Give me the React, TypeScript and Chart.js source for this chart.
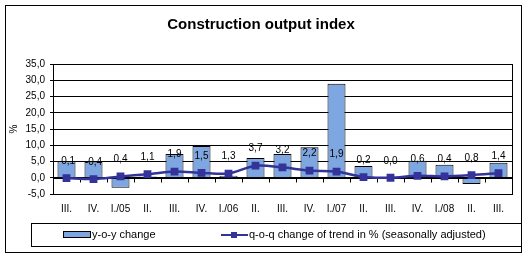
import React, { useEffect, useRef } from "react";
import { Chart, registerables } from "chart.js";

Chart.register(...registerables);

const chartTitle = "Construction output index";
const yAxisTitle = "%";
const categories = ["III.", "IV.", "I./05", "II.", "III.", "IV.", "I./06", "II.", "III.", "IV.", "I./07", "II.", "III.", "IV.", "I./08", "II.", "III."];
const yoyChange = [5.1, 5.0, -3.1, 0.4, 7.3, 9.8, 0.6, 6.1, 7.3, 9.4, 28.9, 3.6, -0.4, 5.2, 4.0, -1.9, 4.6];
const qoqTrend = [-0.1, -0.4, 0.4, 1.1, 1.9, 1.5, 1.3, 3.7, 3.2, 2.2, 1.9, 0.2, 0.0, 0.6, 0.4, 0.8, 1.4];
const seriesNames = ["y-o-y change", "q-o-q change of trend in % (seasonally adjusted)"];
const yMin = -5;
const yMax = 35;
const yStep = 5;

const FONT = "'Liberation Sans', Arial, sans-serif";
const BAR_COLOR = "#7EA6E0";
const LINE_COLOR = "#333399";

const fmt = (v: number) => v.toFixed(1).replace(".", ",");

const decorPlugin = {
  id: "decor",
  beforeDraw(chart: any) {
    const ctx = chart.ctx;
    ctx.save();
    ctx.fillStyle = "#ffffff";
    ctx.fillRect(0, 0, chart.width, chart.height);
    ctx.restore();
  },
  afterDatasetDraw(chart: any, args: any) {
    if (args.index !== 0) return;
    const ctx = chart.ctx;
    const { left, right } = chart.chartArea;
    const y0 = Math.round(chart.scales.y.getPixelForValue(0)) + 0.5;
    const xs = chart.scales.x;
    ctx.save();
    ctx.strokeStyle = "#000";
    ctx.lineWidth = 1;
    ctx.beginPath();
    ctx.moveTo(left, y0);
    ctx.lineTo(right, y0);
    const n = categories.length;
    const w = (right - left) / n;
    for (let i = 1; i < n; i++) {
      const x = Math.round(left + i * w) + 0.5;
      ctx.moveTo(x, y0);
      ctx.lineTo(x, y0 + 4);
    }
    ctx.stroke();
    ctx.restore();
  },
  afterDraw(chart: any) {
    const ctx = chart.ctx;
    const { left, right, top, bottom } = chart.chartArea;
    ctx.save();
    ctx.strokeStyle = "#000";
    ctx.lineWidth = 1;
    // plot border
    ctx.strokeRect(Math.round(left) + 0.5, Math.round(top) + 0.5, Math.round(right - left), Math.round(bottom - top));
    // outer border
    ctx.strokeRect(5.5, 5.5, 516, 247);

    // data labels for line
    const meta = chart.getDatasetMeta(1);
    ctx.fillStyle = "#000";
    ctx.font = `10px ${FONT}`;
    ctx.textAlign = "center";
    ctx.textBaseline = "middle";
    meta.data.forEach((pt: any, i: number) => {
      ctx.fillText(fmt(qoqTrend[i]), pt.x, pt.y - 17);
    });

    // title
    ctx.font = `bold 15px ${FONT}`;
    ctx.textBaseline = "alphabetic";
    ctx.fillText(chartTitle, 261, 29);

    // y axis title
    ctx.save();
    ctx.translate(14, 129);
    ctx.rotate(-Math.PI / 2);
    ctx.font = `10px ${FONT}`;
    ctx.textBaseline = "middle";
    ctx.fillText(yAxisTitle, 0, 0);
    ctx.restore();

    // legend
    ctx.strokeRect(31.5, 223.5, 490, 23);
    ctx.fillStyle = BAR_COLOR;
    ctx.fillRect(63, 231, 27, 7);
    ctx.strokeRect(63.5, 231.5, 27, 6);
    ctx.fillStyle = "#000";
    ctx.font = `11px ${FONT}`;
    ctx.textAlign = "left";
    ctx.textBaseline = "middle";
    ctx.fillText(seriesNames[0], 92, 235);
    ctx.strokeStyle = LINE_COLOR;
    ctx.lineWidth = 2;
    ctx.beginPath();
    ctx.moveTo(221, 235);
    ctx.lineTo(248, 235);
    ctx.stroke();
    ctx.fillStyle = LINE_COLOR;
    ctx.fillRect(231, 232, 6, 6);
    ctx.fillStyle = "#000";
    ctx.fillText(seriesNames[1], 249, 235);
    ctx.restore();
  },
};

export default function App() {
  const ref = useRef<HTMLCanvasElement | null>(null);
  useEffect(() => {
    if (!ref.current) return;
    const chart = new Chart(ref.current, {
      type: "bar",
      data: {
        labels: categories,
        datasets: [
          {
            type: "bar",
            label: seriesNames[0],
            data: yoyChange,
            backgroundColor: BAR_COLOR,
            borderColor: "#000",
            borderWidth: 1,
            barPercentage: 0.667,
            categoryPercentage: 1,
            order: 1,
          },
          {
            type: "line",
            label: seriesNames[1],
            data: qoqTrend,
            borderColor: LINE_COLOR,
            backgroundColor: LINE_COLOR,
            borderWidth: 2.5,
            pointStyle: "rect",
            pointRadius: 5.5,
            pointBorderWidth: 0,
            pointBackgroundColor: LINE_COLOR,
            tension: 0.3,
            fill: false,
            order: 0,
          } as any,
        ],
      },
      options: {
        responsive: false,
        animation: false,
        devicePixelRatio: 1,
        layout: { padding: { left: 5, top: 64, right: 16, bottom: 0 } },
        plugins: {
          legend: { display: false },
          title: { display: false },
          tooltip: { enabled: false },
        },
        scales: {
          x: {
            type: "category",
            offset: true,
            grid: { display: false, drawTicks: false },
            border: { display: false },
            ticks: {
              color: "#000",
              font: { family: FONT, size: 10 },
              padding: 9,
              maxRotation: 0,
              autoSkip: false,
            },
            afterFit(scale: any) {
              scale.height = 65;
            },
          },
          y: {
            min: yMin,
            max: yMax,
            grid: { color: "#000", lineWidth: 1, drawTicks: true, tickLength: 3 },
            border: { display: true, color: "#000", width: 1 },
            ticks: {
              stepSize: yStep,
              color: "#000",
              font: { family: FONT, size: 10 },
              padding: 5,
              callback: (v: any) => fmt(Number(v)),
            },
            afterFit(scale: any) {
              scale.width = 48;
            },
          },
        },
      },
      plugins: [decorPlugin],
    });
    return () => chart.destroy();
  }, []);
  return (
    <div style={{ position: "absolute", left: 0, top: 0, width: 528, height: 259 }}>
      <canvas ref={ref} width={528} height={259} />
    </div>
  );
}
